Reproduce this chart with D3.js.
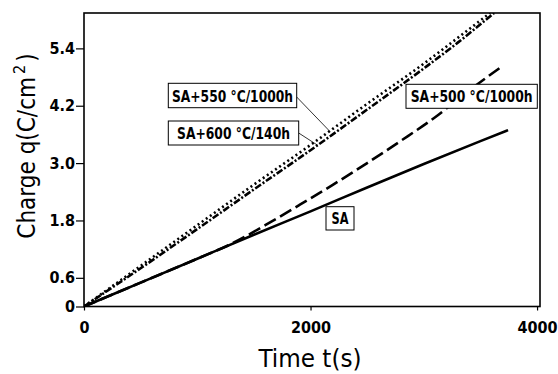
<!DOCTYPE html>
<html><head><meta charset="utf-8">
<script src="https://cdn.jsdelivr.net/npm/d3@7"></script>
<style>body{margin:0;background:#fff}svg{display:block}</style>
</head><body>
<script>
// Data (time in s, charge in C/cm^2)
const tSA  = [0, 500, 1000, 1500, 2000, 2500, 3000, 3500, 3744];
const qSA  = [0, 0.5, 1.0, 1.5, 1.99, 2.49, 2.98, 3.46, 3.69];
const t500 = [0, 500, 1000, 1300, 1600, 1900, 2200, 2500, 2800, 3100, 3400, 3688];
const q500 = [0, 0.5, 1.0, 1.31, 1.70, 2.12, 2.55, 3.0, 3.47, 3.96, 4.52, 5.02];
const t550 = [0, 500, 1000, 1500, 2000, 2500, 3000, 3300, 3585];
const q550 = [0, 0.85, 1.70, 2.55, 3.38, 4.24, 5.08, 5.62, 6.14];
const t600 = [0, 500, 1000, 1500, 2000, 2500, 3000, 3300, 3620];
const q600 = [0, 0.80, 1.62, 2.45, 3.27, 4.12, 4.98, 5.52, 6.14];
const yTicks = [0, 0.6, 1.8, 3.0, 4.2, 5.4];
const yTickLabels = ["0", "0.6", "1.8", "3.0", "4.2", "5.4"];
const xTicks = [0, 2000, 4000];
const xTickLabels = ["0", "2000", "4000"];
const seriesLabels = ["SA", "SA+500 °C/1000h", "SA+600 °C/140h", "SA+550 °C/1000h"];

const W = 558, H = 374;
const svg = d3.select("body").append("svg").attr("width", W).attr("height", H);
const x = d3.scaleLinear().domain([0, 4026]).range([84, 540]);
const y = d3.scaleLinear().domain([0, 6.14]).range([306.5, 13]);
const FONT = "'DejaVu Sans Condensed','Liberation Sans Narrow',sans-serif";

svg.append("defs").append("clipPath").attr("id", "clip")
  .append("rect").attr("x", 84).attr("y", 13).attr("width", 456).attr("height", 293.5);

// axes
const ya = svg.append("g").attr("transform", "translate(84,0)")
  .call(d3.axisLeft(y).tickValues(yTicks).tickSize(8).tickPadding(1)
    .tickFormat((d, i) => yTickLabels[i]));
const xa = svg.append("g").attr("transform", "translate(0,306.5)")
  .call(d3.axisBottom(x).tickValues(xTicks).tickSize(4).tickPadding(11)
    .tickFormat((d, i) => xTickLabels[i]));
[ya, xa].forEach(g => {
  g.select(".domain").remove();
  g.selectAll("line").attr("stroke", "#000").attr("stroke-width", 1.2);
  g.selectAll("text").attr("font-family", FONT).attr("font-weight", "bold")
    .attr("font-size", 16).attr("fill", "#000");
});

// frame
svg.append("rect").attr("x", 84).attr("y", 13).attr("width", 456).attr("height", 293.5)
  .attr("fill", "none").attr("stroke", "#000").attr("stroke-width", 1.6);

// lines
const series = [
  {t: tSA, q: qSA, dash: null},
  {t: t500, q: q500, dash: "13,5"},
  {t: t600, q: q600, dash: "7,2,2,2"},
  {t: t550, q: q550, dash: "2,3"}
];
const line = d3.line().x(d => x(d[0])).y(d => y(d[1])).curve(d3.curveMonotoneX);
const gl = svg.append("g").attr("clip-path", "url(#clip)");
series.forEach(s => {
  gl.append("path").datum(s.t.map((t, i) => [t, s.q[i]]))
    .attr("d", line).attr("fill", "none").attr("stroke", "#000")
    .attr("stroke-width", 2.6).attr("stroke-dasharray", s.dash);
});

// leaders
svg.append("line").attr("x1", 296.7).attr("y1", 97).attr("x2", x(2172)).attr("y2", y(3.66))
  .attr("stroke", "#000").attr("stroke-width", 0.8);
svg.append("line").attr("x1", 298.7).attr("y1", 133).attr("x2", x(2065)).attr("y2", y(3.37))
  .attr("stroke", "#000").attr("stroke-width", 0.8);

// labels
function label(bx, by, bw, bh, txt, tw) {
  const g = svg.append("g");
  g.append("rect").attr("x", bx).attr("y", by).attr("width", bw).attr("height", bh)
    .attr("fill", "#fff").attr("stroke", "#000").attr("stroke-width", 1);
  g.append("text").attr("x", bx + bw / 2).attr("y", by + bh / 2 + 6)
    .attr("text-anchor", "middle").attr("font-family", FONT).attr("font-weight", "bold")
    .attr("font-size", 16).attr("fill", "#000")
    .attr("textLength", tw).attr("lengthAdjust", "spacingAndGlyphs")
    .text(txt);
}
label(168.3, 83.3, 128.4, 24.4, seriesLabels[3], 121);
label(168.3, 121, 130.4, 24, seriesLabels[2], 113);
label(406, 84.3, 131.3, 24, seriesLabels[1], 122);
label(326, 206.7, 28, 23.3, seriesLabels[0], 17);

// axis titles
svg.append("text").attr("x", 310).attr("y", 367).attr("text-anchor", "middle")
  .attr("font-family", FONT).attr("font-size", 24).attr("fill", "#000")
  .attr("textLength", 103).attr("lengthAdjust", "spacingAndGlyphs")
  .text("Time  t(s)");
const yt = svg.append("text").attr("transform", "translate(35,146) rotate(-90)")
  .attr("text-anchor", "middle").attr("font-family", FONT).attr("font-size", 24).attr("fill", "#000");
yt.append("tspan").text("Charge  q(C/cm");
yt.append("tspan").attr("dy", -10).attr("dx", 3).attr("font-size", 16).text("2");
yt.append("tspan").attr("dy", 10).attr("dx", 3).text(")");
</script>
</body></html>
